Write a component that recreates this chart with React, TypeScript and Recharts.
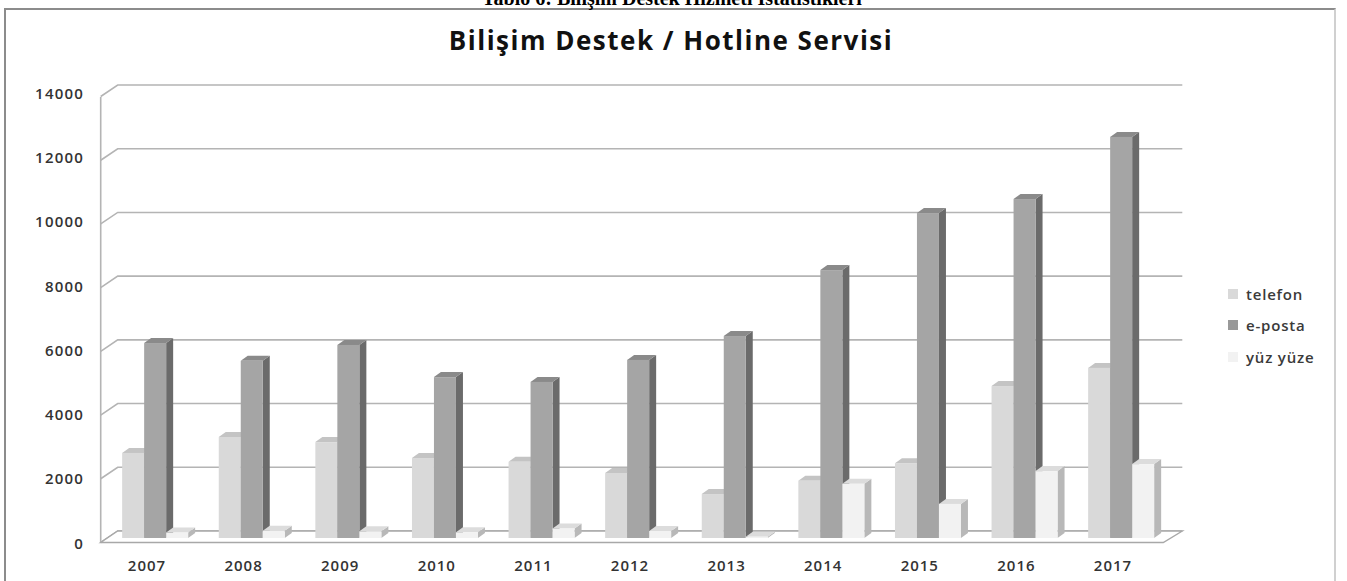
import { BarChart, Bar, XAxis, YAxis, CartesianGrid, Legend } from "recharts";

const years = ["2007", "2008", "2009", "2010", "2011", "2012", "2013", "2014", "2015", "2016", "2017"];
const telefon = [2670, 3170, 3010, 2510, 2390, 2040, 1380, 1800, 2350, 4770, 5340];
const ePosta = [6120, 5560, 6060, 5050, 4900, 5590, 6340, 8410, 10200, 10640, 12590];
const yuzYuze = [170, 230, 210, 180, 300, 220, 40, 1700, 1070, 2100, 2320];
const yTicks = [0, 2000, 4000, 6000, 8000, 10000, 12000, 14000];
const seriesOrder = ["telefon", "ePosta", "yuzYuze"];

const data = years.map((year, i) => ({
  year,
  telefon: telefon[i],
  ePosta: ePosta[i],
  yuzYuze: yuzYuze[i],
}));

// 3d look: side + top faces
const DX = 7;
const DY = 5;

const faces: Record<string, { front: string; side: string; top: string }> = {
  telefon: { front: "#d9d9d9", side: "#ababab", top: "#c4c4c4" },
  ePosta: { front: "#a5a5a5", side: "#6b6b6b", top: "#8a8a8a" },
  yuzYuze: { front: "#f2f2f2", side: "#b8b8b8", top: "#dcdcdc" },
};

const Bar3D = (key: string) => (props: any) => {
  const { x, y, width: w, height: h } = props;
  if (w == null || h == null) return null;
  const c = faces[key];
  return (
    <g>
      <polygon
        points={`${x + w},${y} ${x + w + DX},${y - DY} ${x + w + DX},${y + h - DY} ${x + w},${y + h}`}
        fill={c.side}
      />
      <polygon
        points={`${x},${y} ${x + DX},${y - DY} ${x + w + DX},${y - DY} ${x + w},${y}`}
        fill={c.top}
      />
      <rect x={x} y={y} width={w} height={h} fill={c.front} />
    </g>
  );
};

const gridLine = (p: any) => {
  const { x1, x2, y1 } = p;
  const top = p.y ?? 92;
  const bottom = (p.y ?? 92) + (p.height ?? 446);
  const isFloor = Math.abs(y1 - bottom) < 1;
  const back = y1 - 7;
  const front = y1 + 4.5;
  return (
    <g key={`g-${y1}`}>
      <polyline
        points={`${x1 - 6},${front} ${x1 + 11},${back} ${x2 + 13},${back}`}
        fill="none"
        stroke="#b4b4b4"
        strokeWidth={1.6}
      />
      {isFloor && (
        <>
          <line x1={x1 - 6} y1={top + 5} x2={x1 - 6} y2={front} stroke="#b4b4b4" strokeWidth={1.6} />
          <polygon
            points={`${x1 - 6},${front} ${x2 - 6},${front} ${x2 + 13},${back} ${x1 + 11},${back}`}
            fill="#fff"
            stroke="#a8a8a8"
            strokeWidth={1.4}
          />
        </>
      )}
    </g>
  );
};

const YTick = (props: any) => {
  const { y, payload } = props;
  const v = Number(payload.value);
  return (
    <text
      x={84}
      y={y + 10.5 - (v / 14000) * 3.5}
      textAnchor="end"
      fontFamily="'Open Sans', sans-serif"
      fontSize={15}
      fontWeight={600}
      letterSpacing={1.2}
      fill="#333"
    >
      {payload.value}
    </text>
  );
};

const XTick = (props: any) => {
  const { x, y, payload } = props;
  return (
    <text
      x={x - 8}
      y={y + 33}
      textAnchor="middle"
      fontFamily="'Open Sans', sans-serif"
      fontSize={15}
      fontWeight={600}
      letterSpacing={1}
      fill="#333"
    >
      {payload.value}
    </text>
  );
};

const LegendBox = (props: any) => {
  const items = [...(props.payload ?? [])].sort(
    (a: any, b: any) => seriesOrder.indexOf(a.dataKey) - seriesOrder.indexOf(b.dataKey)
  );
  return (
    <div style={{ fontFamily: "'Open Sans', sans-serif", fontSize: 15, fontWeight: 600, letterSpacing: 0.8, color: "#3a3a3a" }}>
      {items.map((it: any) => (
        <div key={it.value} style={{ display: "flex", alignItems: "center", height: 31.5 }}>
          <span
            style={{
              display: "inline-block",
              width: 10,
              height: 10,
              marginRight: 8,
              background: it.dataKey === "ePosta" ? "#999" : faces[it.dataKey as string]?.front ?? it.color,
            }}
          />
          {it.value}
        </div>
      ))}
    </div>
  );
};

export default function App() {
  return (
    <div style={{ position: "absolute", left: 0, top: 0, width: 1347, height: 581, overflow: "hidden", background: "#fff" }}>
      <div
        style={{
          position: "absolute",
          left: 4,
          top: 8,
          width: 1328,
          height: 620,
          borderTop: "2px solid #8c8c8c",
          borderLeft: "2px solid #8c8c8c",
          borderRight: "2px solid #d0d0d0",
        }}
      />
      <div style={{ position: "absolute", left: 0, top: 0 }}>
        <BarChart
          width={1347}
          height={581}
          data={data}
          margin={{ top: 92, right: 177.7, bottom: 0, left: 0 }}
          barCategoryGap="16%"
          barGap={0}
        >
          <CartesianGrid vertical={false} horizontal={gridLine} />
          <XAxis dataKey="year" axisLine={false} tickLine={false} tickSize={0} tickMargin={0} height={43} tick={XTick} interval={0} />
          <YAxis
            domain={[0, 14000]}
            ticks={yTicks}
            axisLine={false}
            tickLine={false}
            tickSize={0}
            width={106.7}
            tick={YTick}
          />
          <Legend
            layout="horizontal"
            align="center"
            verticalAlign="middle"
            content={LegendBox}
            wrapperStyle={{ position: "absolute", left: 1228, top: 278, width: 110, height: 100 }}
          />
          <Bar dataKey="telefon" name="telefon" fill="#d9d9d9" shape={Bar3D("telefon")} isAnimationActive={false} />
          <Bar dataKey="ePosta" name="e-posta" fill="#a5a5a5" shape={Bar3D("ePosta")} isAnimationActive={false} />
          <Bar dataKey="yuzYuze" name="yüz yüze" fill="#f2f2f2" shape={Bar3D("yuzYuze")} isAnimationActive={false} />
        </BarChart>
      </div>
      <svg width={1347} height={581} style={{ position: "absolute", left: 0, top: 0, pointerEvents: "none" }}>
        <text
          x={672}
          y={5}
          textAnchor="middle"
          fontFamily="'Liberation Serif', serif"
          fontWeight="bold"
          fontSize={20}
          fill="#000"
        >
          Tablo 6: Bilişim Destek Hizmeti İstatistikleri
        </text>
        <text
          x={671}
          y={50}
          textAnchor="middle"
          fontFamily="'Open Sans', sans-serif"
          fontWeight="bold"
          fontSize={26}
          letterSpacing={1.5}
          fill="#111"
        >
          Bilişim Destek / Hotline Servisi
        </text>
      </svg>
    </div>
  );
}
